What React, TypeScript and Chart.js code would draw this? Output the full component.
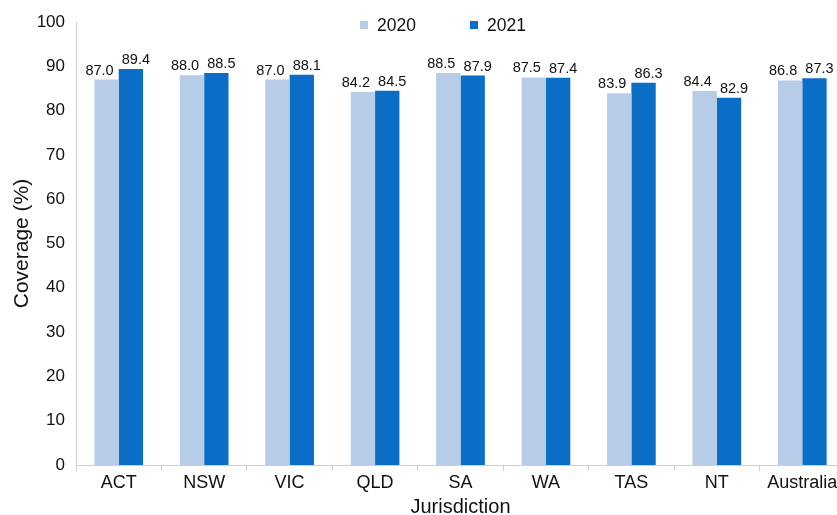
import React, { useEffect, useRef } from "react";
import { Chart, registerables } from "chart.js";

Chart.register(...registerables);

const categories = ["ACT", "NSW", "VIC", "QLD", "SA", "WA", "TAS", "NT", "Australia"];
const values2020 = [87.0, 88.0, 87.0, 84.2, 88.5, 87.5, 83.9, 84.4, 86.8];
const values2021 = [89.4, 88.5, 88.1, 84.5, 87.9, 87.4, 86.3, 82.9, 87.3];
const seriesLabels = ["2020", "2021"];
const yTicks = [0, 10, 20, 30, 40, 50, 60, 70, 80, 90, 100];

const FONT = "'Liberation Sans', Arial, Helvetica, sans-serif";
const LIGHT = "#b7cde7";
const DARK = "#0b6ec6";

const valueLabels = {
  id: "valueLabels",
  afterDatasetsDraw(chart: any) {
    const ctx = chart.ctx;
    ctx.save();
    ctx.font = `14.5px ${FONT}`;
    ctx.fillStyle = "#111";
    ctx.textAlign = "center";
    ctx.textBaseline = "alphabetic";
    const shift = [-7, 5];
    chart.data.datasets.forEach((ds: any, di: number) => {
      const meta = chart.getDatasetMeta(di);
      meta.data.forEach((bar: any, i: number) => {
        ctx.fillText(Number(ds.data[i]).toFixed(1), bar.x + shift[di], bar.y - 5);
      });
    });
    ctx.restore();
  },
};

const customLegend = {
  id: "customLegend",
  afterDraw(chart: any) {
    const ctx = chart.ctx;
    ctx.save();
    ctx.font = `17.5px ${FONT}`;
    ctx.textBaseline = "middle";
    ctx.textAlign = "left";
    const xs = [360, 470];
    const y = 25;
    chart.data.datasets.forEach((ds: any, i: number) => {
      ctx.fillStyle = ds.backgroundColor;
      ctx.fillRect(xs[i], y - 4, 8, 8);
      ctx.fillStyle = "#111";
      ctx.fillText(ds.label, xs[i] + 17, y + 1);
    });
    ctx.restore();
  },
};

export default function App() {
  const ref = useRef<HTMLCanvasElement>(null);
  useEffect(() => {
    document.body.style.margin = "0";
    const chart = new Chart(ref.current!, {
      type: "bar",
      data: {
        labels: categories,
        datasets: [
          { label: seriesLabels[0], data: values2020, backgroundColor: LIGHT, barPercentage: 1, categoryPercentage: 0.57 },
          { label: seriesLabels[1], data: values2021, backgroundColor: DARK, barPercentage: 1, categoryPercentage: 0.57 },
        ],
      },
      options: {
        animation: false,
        responsive: false,
        maintainAspectRatio: false,
        layout: { padding: { top: 22, right: 0, left: 0, bottom: 0 } },
        plugins: {
          legend: { display: false },
          tooltip: { enabled: false },
        },
        scales: {
          x: {
            offset: true,
            grid: {
              display: true,
              drawOnChartArea: false,
              drawTicks: true,
              tickLength: 6,
              color: "#cfcfcf",
              offset: true,
            },
            border: { display: true, color: "#cfcfcf" },
            ticks: { color: "#111", font: { family: FONT, size: 18 }, padding: 1 },
            title: {
              display: true,
              text: "Jurisdiction",
              color: "#111",
              font: { family: FONT, size: 20 },
              padding: { top: 2, bottom: -4 },
            },
            afterFit(scale: any) {
              scale.height = 50;
            },
          },
          y: {
            min: 0,
            max: 100,
            afterBuildTicks(scale: any) {
              scale.ticks = yTicks.map((v) => ({ value: v }));
            },
            grid: { display: false, drawTicks: false },
            border: { display: true, color: "#cfcfcf" },
            ticks: { color: "#111", font: { family: FONT, size: 17 }, padding: 11 },
            title: {
              display: true,
              text: "Coverage (%)",
              color: "#111",
              font: { family: FONT, size: 21 },
              padding: { top: 10, bottom: 0 },
            },
            afterFit(scale: any) {
              scale.width = 76;
            },
          },
        },
      },
      plugins: [valueLabels, customLegend],
    });
    return () => chart.destroy();
  }, []);
  return (
    <div style={{ position: "absolute", left: 0, top: 0, width: 837, height: 515, overflow: "hidden", background: "#fff" }}>
      <canvas ref={ref} width={845} height={515} style={{ display: "block" }} />
    </div>
  );
}
